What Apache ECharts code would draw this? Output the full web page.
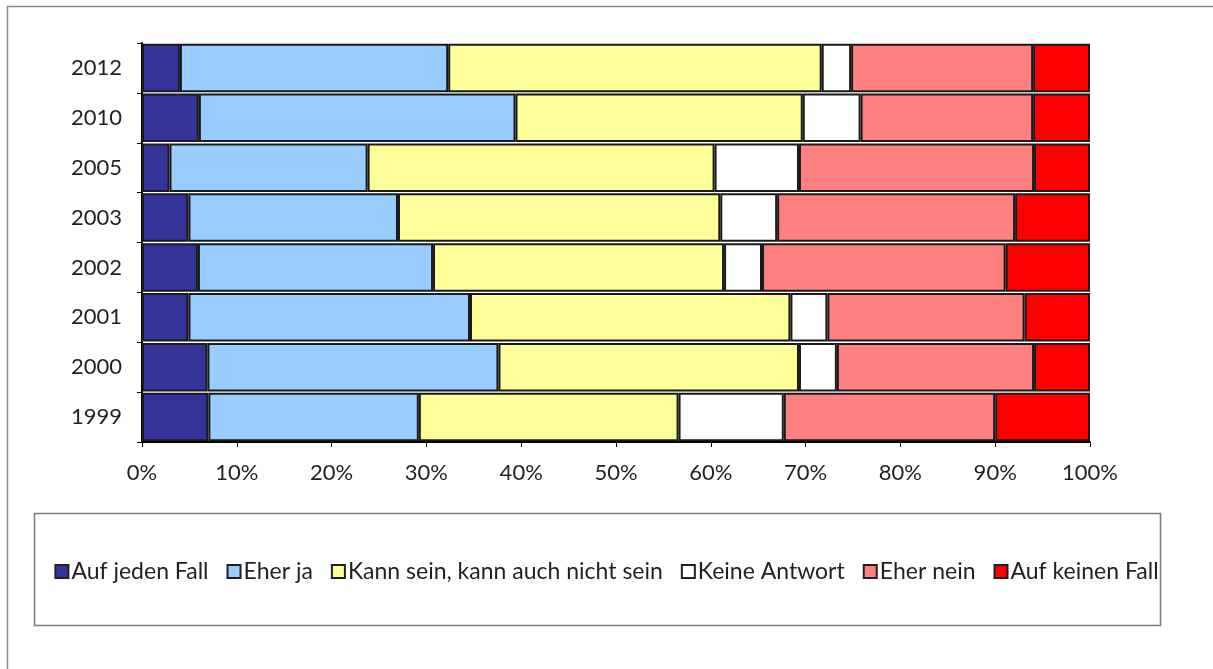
<!DOCTYPE html>
<html>
<head>
<meta charset="utf-8">
<title>Umfrage 1999-2012</title>
<script src="https://cdn.jsdelivr.net/npm/echarts@6/dist/echarts.min.js"></script>
<style>
    html, body { margin: 0; padding: 0; background: #fff; }
    #chart { width: 1213px; height: 669px; }
</style>
</head>
<body>
<div id="chart"></div>
<script>
// Jahre (von unten nach oben)
var years = ['1999', '2000', '2001', '2002', '2003', '2005', '2010', '2012'];
var xTicks = [0, 10, 20, 30, 40, 50, 60, 70, 80, 90, 100];

// Anteile in % je Antwort
var aufJedenFall   = [7.0, 6.9, 4.9, 5.9, 4.9, 2.9, 6.0, 4.0];
var eherJa         = [22.2, 30.7, 29.7, 24.8, 22.1, 20.9, 33.4, 28.3];
var kannSein       = [27.4, 31.7, 33.8, 30.7, 34.0, 36.6, 30.3, 39.4];
var keineAntwort   = [11.1, 4.0, 3.9, 4.0, 6.0, 8.9, 6.1, 3.1];
var eherNein       = [22.3, 20.8, 20.8, 25.7, 25.1, 24.8, 18.2, 19.2];
var aufKeinenFall  = [10.0, 5.9, 6.9, 8.9, 7.9, 5.9, 6.0, 6.0];

var seriesNames = ['Auf jeden Fall', 'Eher ja', 'Kann sein, kann auch nicht sein',
    'Keine Antwort', 'Eher nein', 'Auf keinen Fall'];
var seriesData = [aufJedenFall, eherJa, kannSein, keineAntwort, eherNein, aufKeinenFall];
var seriesColors = ['#333399', '#99ccff', '#ffff99', '#ffffff', '#ff8080', '#ff0000'];

var textColor = '#231f20';
var font = 'Lato, "Open Sans", sans-serif';

var chart = echarts.init(document.getElementById('chart'));

var option = {
    backgroundColor: '#ffffff',
    animation: false,
    textStyle: { fontFamily: font, color: textColor },
    grid: {
        left: 142,
        right: 123,
        top: 43,
        bottom: 227,
        containLabel: false
    },
    graphic: [{
        // äußerer Rahmen
        type: 'rect',
        shape: { x: 7.5, y: 6.5, width: 1230, height: 700 },
        style: { fill: 'none', stroke: '#8a8a8a', lineWidth: 1.5 },
        z: -1
    }, {
        // Legendenrahmen
        type: 'rect',
        shape: { x: 34.5, y: 513.5, width: 1126, height: 112 },
        style: { fill: 'none', stroke: '#7a7a7a', lineWidth: 1.5 },
        z: -1
    }],
    legend: {
        left: 'center',
        top: 555,
        itemWidth: 13,
        itemHeight: 13,
        itemGap: 18,
        icon: 'rect',
        textStyle: { fontSize: 23, color: textColor, fontFamily: font, padding: [0, 0, 0, -2] },
        itemStyle: { borderColor: '#231f20', borderWidth: 2 },
        data: seriesNames
    },
    xAxis: {
        type: 'value',
        min: 0,
        max: 100,
        interval: 10,
        splitLine: { show: false },
        axisLine: { show: true, lineStyle: { color: '#000', width: 2 } },
        axisTick: { show: true, length: 5, lineStyle: { color: '#000', width: 1 } },
        axisLabel: {
            fontSize: 22,
            color: textColor,
            margin: 20,
            formatter: function (v) { return v + '%'; }
        }
    },
    yAxis: {
        type: 'category',
        data: years,
        axisLine: { show: true, lineStyle: { color: '#000', width: 2 } },
        axisTick: { show: true, length: 5, lineStyle: { color: '#000', width: 1 } },
        axisLabel: { fontSize: 22, color: textColor, margin: 20 }
    },
    series: seriesNames.map(function (name, i) {
        return {
            name: name,
            type: 'bar',
            stack: 'gesamt',
            barCategoryGap: '3%',
            data: seriesData[i],
            itemStyle: {
                color: seriesColors[i],
                borderColor: '#1a1a1a',
                borderWidth: 2
            }
        };
    })
};

chart.setOption(option);
</script>
</body>
</html>
